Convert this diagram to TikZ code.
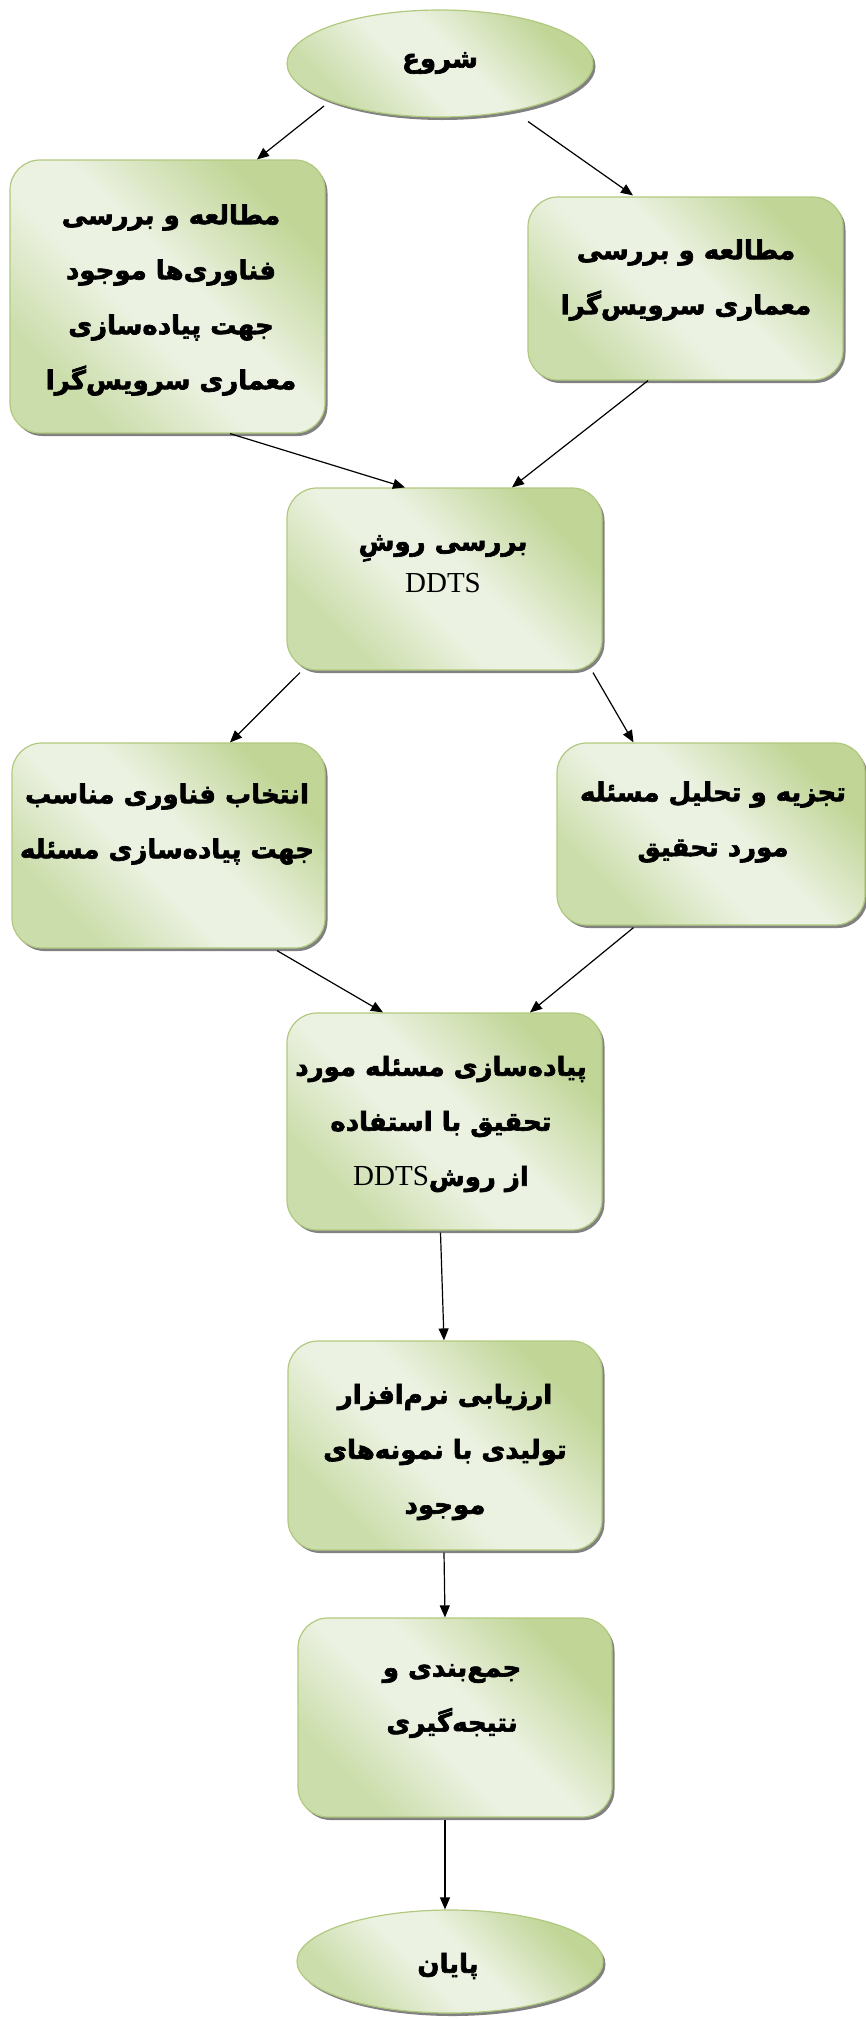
\documentclass[tikz,border=0pt]{standalone}
\usepackage{fontspec}
\setmainfont{Liberation Serif}
\newfontfamily\farsi[Script=Arabic,FakeBold=2.4]{DejaVu Sans Bold}
\TeXXeTstate=1
\usetikzlibrary{shapes.geometric,shadows,arrows.meta,calc}
\definecolor{glight}{RGB}{236,242,226}
\definecolor{gdark}{RGB}{192,213,150}
\definecolor{gmid}{RGB}{203,221,170}
\definecolor{gborder}{RGB}{176,201,126}
\pgfdeclarehorizontalshading{gshade}{100bp}{color(0bp)=(gmid); color(27bp)=(gmid); color(44bp)=(glight); color(54bp)=(glight); color(74bp)=(gdark); color(100bp)=(gdark)}
\newcommand{\fa}[1]{{\farsi\beginR #1\endR}}
\newcommand{\lat}[1]{\beginL{\rmfamily\mdseries\fontsize{29}{55}\selectfont #1}\endL}
\begin{document}
\begin{tikzpicture}[x=1pt,y=-1pt,
  fillstyle/.style={draw=gborder, line width=1.2pt, shading=gshade, shading angle=45,
    drop shadow={shadow xshift=2.5pt,shadow yshift=-3pt,fill=black!55,opacity=0.9}},
  box/.style={rectangle, rounded corners=30pt, fillstyle, inner sep=0pt},
  oval/.style={ellipse, fillstyle, inner sep=0pt},
  txt/.style={align=center, font=\fontsize{26}{55}\selectfont, inner sep=0pt},
  arr/.style={-{Triangle[length=12pt,width=10pt]}, line width=1.2pt}
]
\useasboundingbox (0,0) rectangle (865,2019);

% shapes
\node[oval, minimum width=306pt, minimum height=107pt] (s) at (440,63.5) {};
\node[box, minimum width=315pt, minimum height=273pt] (b1) at (167.5,296.5) {};
\node[box, minimum width=315pt, minimum height=183pt] (b2) at (685.5,288.5) {};
\node[box, minimum width=315pt, minimum height=182pt] (b3) at (444.5,579) {};
\node[box, minimum width=313pt, minimum height=205pt] (b4) at (168.5,845.5) {};
\node[box, minimum width=308pt, minimum height=182pt] (b5) at (711,834) {};
\node[box, minimum width=315pt, minimum height=217pt] (b6) at (444.5,1121.5) {};
\node[box, minimum width=314pt, minimum height=209pt] (b7) at (445,1445.5) {};
\node[box, minimum width=314pt, minimum height=199pt] (b8) at (455,1717.5) {};
\node[oval, minimum width=306pt, minimum height=103pt] (e) at (450,1961.5) {};

% texts
\node[txt] (t0) at (440,63) {\fa{شروع}};
\node[txt] (t1) at (171,300) {\fa{مطالعه و بررسی}\\\fa{فناوری^^^^200cها موجود}\\\fa{جهت پیاده^^^^200cسازی}\\\fa{معماری سرویس^^^^200cگرا}};
\node[txt] (t2) at (686,280) {\fa{مطالعه و بررسی}\\\fa{معماری سرویس^^^^200cگرا}};
\node[txt, font=\fontsize{26}{42}\selectfont] (t3) at (443,564) {\fa{بررسی روشِ}\\\lat{DDTS}};
\node[txt] (t4) at (167,824) {\fa{انتخاب فناوری مناسب}\\\fa{جهت پیاده^^^^200cسازی مسئله}};
\node[txt] (t5) at (713,822) {\fa{تجزیه و تحلیل مسئله}\\\fa{مورد تحقیق}};
\node[txt] (t6) at (441,1124) {\fa{پیاده^^^^200cسازی مسئله مورد}\\\fa{تحقیق با استفاده}\\\fa{از روش\lat{DDTS}}};
\node[txt] (t7) at (445,1452) {\fa{ارزیابی نرم^^^^200cافزار}\\\fa{تولیدی با نمونه^^^^200cهای}\\\fa{موجود}};
\node[txt] (t8) at (452,1701) {\fa{جمع^^^^200cبندی و}\\\fa{نتیجه^^^^200cگیری}};
\node[txt] (t9) at (448,1966) {\fa{پایان}};

% connectors
\draw[arr] ($(s.center)+(-116,42.5)$) -- ($(b1.north)+(89.5,0)$);
\draw[arr] ($(s.center)+(88,58)$) -- ($(b2.north)+(-52.5,-1)$);
\draw[arr] ($(b1.south)+(62.5,0)$) -- ($(b3.north)+(-39.5,0)$);
\draw[arr] ($(b2.south)+(-37.5,0)$) -- ($(b3.north)+(67.5,0)$);
\draw[arr] ($(b3.south)+(-144.5,2)$) -- ($(b4.north)+(61.5,0)$);
\draw[arr] ($(b3.south)+(148.5,2)$) -- ($(b5.north)+(-77.5,0)$);
\draw[arr] ($(b4.south)+(108.5,2)$) -- ($(b6.north)+(-61.5,0)$);
\draw[arr] ($(b5.south)+(-77.5,2)$) -- ($(b6.north)+(85.5,0)$);
\draw[arr] ($(b6.south)+(-4,2)$) -- ($(b7.north)+(-1,0)$);
\draw[arr] ($(b7.south)+(-1,2)$) -- ($(b8.north)+(-10,0)$);
\draw[arr] ($(b8.south)+(-10,2)$) -- ($(e.north)+(-5,0)$);
\end{tikzpicture}
\end{document}
